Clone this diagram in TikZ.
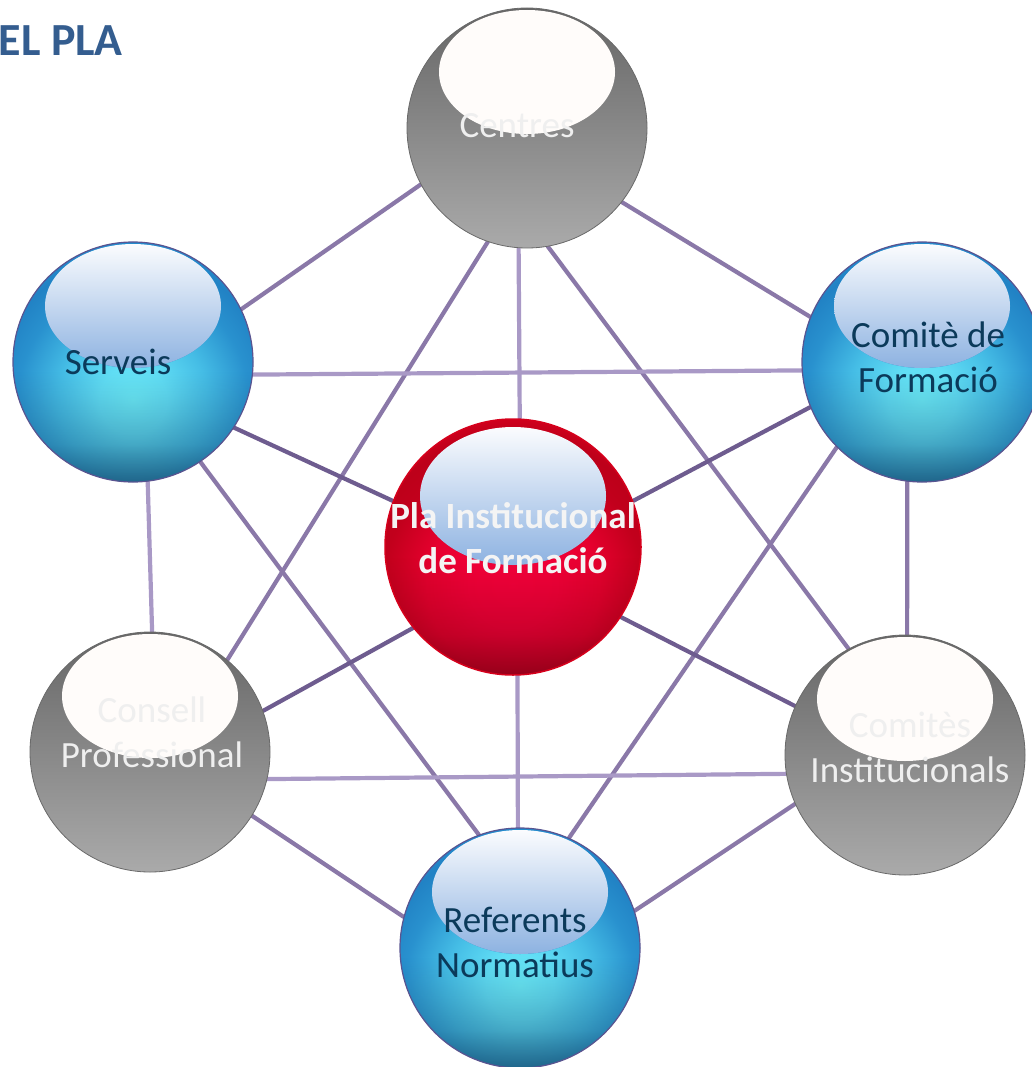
\documentclass[tikz,border=0pt]{standalone}
\usepackage{fontspec}
\setmainfont{Carlito}
\usepackage{xcolor}
\usetikzlibrary{positioning}
\usetikzlibrary{backgrounds}
\usetikzlibrary{fadings}

\definecolor{linkDark}{HTML}{6E5C8F}
\definecolor{linkMid}{HTML}{8A78A8}
\definecolor{linkLight}{HTML}{A999C6}
\definecolor{titleBlue}{HTML}{345D8F}
\definecolor{txtBlue}{HTML}{0B3A5A}
\definecolor{txtLight}{HTML}{EFEFEF}
\definecolor{txtWhite}{HTML}{F4F4F4}
\definecolor{blueRim}{HTML}{5A5490}
\definecolor{blueBase}{HTML}{2590D0}
\definecolor{blueDeep}{HTML}{0A3050}
\definecolor{redRim}{HTML}{D6001C}
\definecolor{redBase}{HTML}{D8001F}
\definecolor{redDeep}{HTML}{4A0008}
\definecolor{grayRim}{HTML}{6A6A6A}
\definecolor{grayTop}{HTML}{666666}
\definecolor{grayBottom}{HTML}{AAAAAA}
\definecolor{glassTop}{HTML}{FBFCFE}
\definecolor{glassBottom}{HTML}{8DB2E1}
\definecolor{glassWhite}{HTML}{FFFCFA}

% glow of the spheres (path fits the inner 25bp)
\pgfdeclareradialshading{blueGlow}{\pgfpointorigin}{%
  rgb(0bp)=(0.42,0.92,0.97); rgb(5bp)=(0.38,0.87,0.96); rgb(11bp)=(0.27,0.74,0.90);
  rgb(17bp)=(0.16,0.57,0.81); rgb(21bp)=(0.13,0.51,0.77); rgb(25bp)=(0.15,0.57,0.83);
  rgb(50bp)=(0.15,0.57,0.83)}
\pgfdeclareradialshading{redGlow}{\pgfpointorigin}{%
  rgb(0bp)=(0.96,0.00,0.23); rgb(6bp)=(0.95,0.00,0.22); rgb(12bp)=(0.90,0.00,0.18);
  rgb(18bp)=(0.76,0.00,0.11); rgb(21bp)=(0.74,0.00,0.10); rgb(25bp)=(0.88,0.00,0.13);
  rgb(50bp)=(0.88,0.00,0.13)}
% darker at the bottom only
\pgfdeclareverticalshading{lowRimShade}{100bp}{%
  color(0bp)=(pgftransparent!0); color(25bp)=(pgftransparent!0);
  color(33bp)=(pgftransparent!55); color(48bp)=(pgftransparent!100);
  color(100bp)=(pgftransparent!100)}
\pgfdeclarefading{lowRim}{\pgfuseshading{lowRimShade}}

\begin{document}
\begin{tikzpicture}[x=1pt,y=1pt,
    link/.style={line width=4.2pt, line cap=round},
    link dark/.style={link, linkDark},
    link mid/.style={link, linkMid},
    link light/.style={link, linkLight},
    ball/.style={circle, minimum size=240pt, inner sep=0pt},
    blue ball/.style={ball, draw=blueRim, line width=1.2pt, fill=blueBase,
      path picture={
        \shade[shading=blueGlow] ([yshift=-38pt]path picture bounding box.center) circle [radius=170pt];
        \fill[blueDeep, path fading=lowRim, fill opacity=0.6]
          (path picture bounding box.south west) rectangle (path picture bounding box.north east);
        \fill[top color=glassTop, bottom color=glassBottom]
          ([yshift=56pt]path picture bounding box.center) ellipse [x radius=88pt, y radius=62pt];
      }},
    red ball/.style={ball, minimum size=256pt, draw=redRim, line width=1.5pt, fill=redBase,
      path picture={
        \shade[shading=redGlow] ([yshift=-38pt]path picture bounding box.center) circle [radius=180pt];
        \fill[redDeep, path fading=lowRim, fill opacity=0.5]
          (path picture bounding box.south west) rectangle (path picture bounding box.north east);
        \fill[top color=glassTop, bottom color=glassBottom]
          ([yshift=51pt]path picture bounding box.center) ellipse [x radius=93pt, y radius=69pt];
      }},
    gray ball/.style={ball, draw=grayRim, line width=0.8pt, top color=grayTop, bottom color=grayBottom,
      path picture={
        \fill[glassWhite]
          ([yshift=56pt]path picture bounding box.center) ellipse [x radius=88pt, y radius=62pt];
      }},
    lbl/.style={align=center, inner sep=0pt, font=\fontsize{37}{45}\selectfont},
    lbl blue/.style={lbl, text=txtBlue},
    lbl light/.style={lbl, text=txtLight}
  ]
  \useasboundingbox (0,0) rectangle (1032,-1067);

  % title, cut at the left edge
  \node[anchor=base east, inner sep=0pt, text=titleBlue, font=\fontsize{46}{50}\selectfont\bfseries]
    (title) at (123,-56) {EL PLA};

  % spheres
  \node[gray ball] (ctr) at (527,-128) {};
  \node[blue ball] (srv) at (133,-362) {};
  \node[blue ball] (cfm) at (922,-362) {};
  \node[red ball]  (pla) at (513,-547) {};
  \node[gray ball] (csl) at (150,-752) {};
  \node[gray ball] (cin) at (905,-755) {};
  \node[blue ball] (ref) at (520,-948) {};

  % texts
  \node[lbl light] (ctr-t) at ([xshift=-10pt,yshift=2pt]ctr) {Centres};
  \node[lbl blue]  (srv-t) at ([xshift=-15pt]srv) {Serveis};
  \node[lbl blue]  (cfm-t) at ([xshift=6pt,yshift=5pt]cfm) {Comitè de\\Formació};
  \node[lbl, text=txtWhite, font=\fontsize{37}{45}\selectfont\bfseries]
    (pla-t) at ([yshift=9pt]pla) {Pla Institucional\\de Formació};
  \node[lbl light] (csl-t) at ([xshift=2pt,yshift=20pt]csl) {Consell\\Professional};
  \node[lbl light] (cin-t) at ([xshift=5pt,yshift=8pt]cin) {Comitès\\Institucionals};
  \node[lbl blue]  (ref-t) at ([xshift=-5pt,yshift=6pt]ref) {Referents\\Normatius};

  % links behind the spheres
  \begin{scope}[on background layer]
    \draw[link mid]   (ctr.208) -- (srv.26);
    \draw[link mid]   (ctr.251) -- (csl.50);
    \draw[link light] (ctr.266) -- (pla.87);
    \draw[link mid]   (ctr.280) -- (cin.118);
    \draw[link mid]   (ctr.322) -- (cfm.158);
    \draw[link light] (srv.354) -- (cfm.184);
    \draw[link dark]  (srv.327) -- (pla.159);
    \draw[link mid]   (srv.304) -- (ref.110);
    \draw[link light] (srv.277) -- (csl.89);
    \draw[link dark]  (cfm.202) -- (pla.21);
    \draw[link mid]   (cfm.225) -- (ref.66);
    \draw[link mid]   (cfm.263) -- (cin.89);
    \draw[link dark]  (pla.219) -- (csl.20);
    \draw[link dark]  (pla.327) -- (cin.156);
    \draw[link light] (pla.272) -- (ref.91);
    \draw[link light] (csl.347) -- (cin.189);
    \draw[link mid]   (csl.328) -- (ref.165);
    \draw[link mid]   (cin.204) -- (ref.18);
  \end{scope}
\end{tikzpicture}
\end{document}
